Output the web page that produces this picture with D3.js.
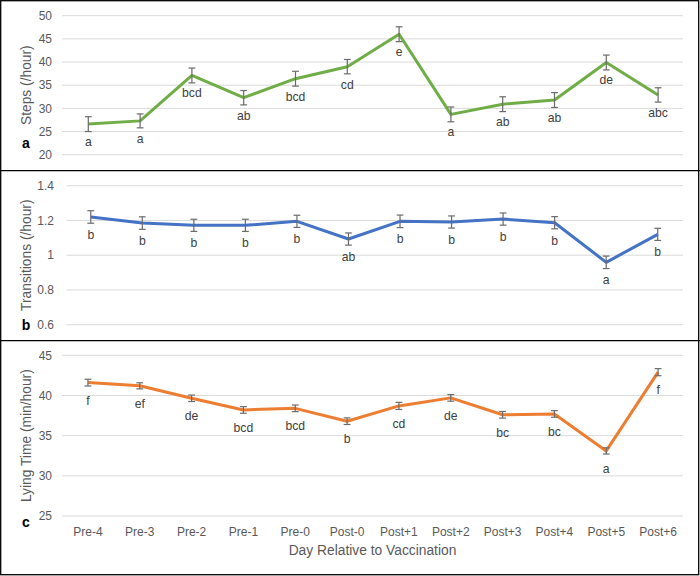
<!DOCTYPE html>
<html>
<head>
<meta charset="utf-8">
<script src="https://cdn.jsdelivr.net/npm/d3@7/dist/d3.min.js"></script>
<style>
  html, body { margin: 0; padding: 0; background: #fff; }
  svg { display: block; font-family: "Liberation Sans", Arial, sans-serif; }
</style>
</head>
<body>
<svg id="chart" width="700" height="576"></svg>
<script>
// ---- Data ----
const days = ["Pre-4","Pre-3","Pre-2","Pre-1","Pre-0","Post-0","Post+1","Post+2","Post+3","Post+4","Post+5","Post+6"];

const stepsValues = [26.6, 27.3, 37.1, 32.3, 36.4, 39.0, 46.0, 28.7, 30.9, 31.8, 39.9, 32.9];
const stepsErrors = [1.6, 1.5, 1.6, 1.55, 1.6, 1.55, 1.6, 1.6, 1.6, 1.6, 1.6, 1.55];
const stepsLetters = ["a","a","bcd","ab","bcd","cd","e","a","ab","ab","de","abc"];
const stepsTicks = [20, 25, 30, 35, 40, 45, 50];

const transValues = [1.22, 1.185, 1.172, 1.172, 1.195, 1.093, 1.195, 1.191, 1.208, 1.187, 0.959, 1.12];
const transErrors = [0.036, 0.036, 0.035, 0.035, 0.035, 0.035, 0.036, 0.035, 0.035, 0.035, 0.036, 0.035];
const transLetters = ["b","b","b","b","b","ab","b","b","b","b","a","b"];
const transTicks = [0.6, 0.8, 1.0, 1.2, 1.4];

const lyingValues = [41.6, 41.2, 39.65, 38.2, 38.4, 36.8, 38.7, 39.7, 37.6, 37.7, 33.1, 42.9];
const lyingErrors = [0.42, 0.38, 0.4, 0.41, 0.41, 0.41, 0.44, 0.41, 0.41, 0.41, 0.39, 0.44];
const lyingLetters = ["f","ef","de","bcd","bcd","b","cd","de","bc","bc","a","f"];
const lyingTicks = [25, 30, 35, 40, 45];

const xTitle = "Day Relative to Vaccination";

// ---- Layout ----
const panels = [
  { title: "Steps (/hour)", label: "a", values: stepsValues, errors: stepsErrors, letters: stepsLetters,
    ticks: stepsTicks, domain: [20, 50], yRange: [154.7, 15.7], xRange: [62.4, 684], gridX: [62, 683],
    tickX: 52, color: "#70AD47", labelY: 147.5, fmt: d3.format("d") },
  { title: "Transitions (/hour)", label: "b", values: transValues, errors: transErrors, letters: transLetters,
    ticks: transTicks, domain: [0.6, 1.4], yRange: [324.7, 185.7], xRange: [65, 683.5], gridX: [66.5, 683],
    tickX: 54, color: "#4472C4", labelY: 330, fmt: d => (d === 1 ? "1" : d3.format(".1f")(d)) },
  { title: "Lying Time (min/hour)", label: "c", values: lyingValues, errors: lyingErrors, letters: lyingLetters,
    ticks: lyingTicks, domain: [25, 45], yRange: [516, 355.3], xRange: [62, 684], gridX: [62, 683],
    tickX: 52, color: "#ED7D31", labelY: 527, fmt: d3.format("d") }
];

const svg = d3.select("#chart");
const textGray = "#595959";

panels.forEach((p, pi) => {
  const x = d3.scaleBand().domain(days).range(p.xRange).padding(0);
  const y = d3.scaleLinear().domain(p.domain).range(p.yRange);
  const cx = d => x(d) + x.bandwidth() / 2;
  const g = svg.append("g");

  // gridlines
  g.selectAll(".grid").data(p.ticks).join("line")
    .attr("x1", p.gridX[0]).attr("x2", p.gridX[1])
    .attr("y1", d => y(d)).attr("y2", d => y(d))
    .attr("stroke", "#d9d9d9").attr("stroke-width", 1);

  // tick labels
  g.selectAll(".tick").data(p.ticks).join("text")
    .attr("x", p.tickX).attr("y", d => y(d)).attr("dy", "0.35em")
    .attr("text-anchor", "end").attr("font-size", 12).attr("fill", textGray)
    .text(p.fmt);

  // y title
  const yMid = (p.yRange[0] + p.yRange[1]) / 2;
  g.append("text")
    .attr("transform", `translate(30.8,${yMid}) rotate(-90)`)
    .attr("text-anchor", "middle").attr("font-size", 13.8).attr("fill", textGray)
    .text(p.title);

  // panel label
  g.append("text")
    .attr("x", 26).attr("y", p.labelY)
    .attr("text-anchor", "middle").attr("font-size", 14).attr("font-weight", "bold").attr("fill", "#000")
    .text(p.label);

  const pts = days.map((d, i) => ({ d, v: p.values[i], e: p.errors[i], l: p.letters[i] }));

  // line
  g.append("path").datum(pts)
    .attr("fill", "none").attr("stroke", p.color).attr("stroke-width", 3)
    .attr("stroke-linejoin", "round")
    .attr("d", d3.line().x(q => cx(q.d)).y(q => y(q.v)));

  // error bars
  const eb = g.selectAll(".eb").data(pts).join("g");
  const ebColor = "#6b6b6b";
  eb.append("line")
    .attr("x1", q => cx(q.d)).attr("x2", q => cx(q.d))
    .attr("y1", q => y(q.v - q.e)).attr("y2", q => y(q.v + q.e))
    .attr("stroke", ebColor).attr("stroke-width", 1.2);
  eb.append("line")
    .attr("x1", q => cx(q.d) - 3.4).attr("x2", q => cx(q.d) + 3.4)
    .attr("y1", q => y(q.v + q.e)).attr("y2", q => y(q.v + q.e))
    .attr("stroke", ebColor).attr("stroke-width", 1.2);
  eb.append("line")
    .attr("x1", q => cx(q.d) - 3.4).attr("x2", q => cx(q.d) + 3.4)
    .attr("y1", q => y(q.v - q.e)).attr("y2", q => y(q.v - q.e))
    .attr("stroke", ebColor).attr("stroke-width", 1.2);

  // significance letters
  g.selectAll(".lt").data(pts).join("text")
    .attr("x", q => cx(q.d)).attr("y", q => y(q.v) + 22)
    .attr("text-anchor", "middle").attr("font-size", 12.2).attr("fill", "#404040")
    .text(q => q.l);

  // x axis labels for bottom panel
  if (pi === 2) {
    g.selectAll(".xl").data(days).join("text")
      .attr("x", d => cx(d)).attr("y", 536)
      .attr("text-anchor", "middle").attr("font-size", 12).attr("fill", textGray)
      .text(d => d);
    g.append("text")
      .attr("x", (p.gridX[0] + p.gridX[1]) / 2).attr("y", 554.5)
      .attr("text-anchor", "middle").attr("font-size", 13.8).attr("fill", textGray)
      .text(xTitle);
  }
});

// panel borders
const border = svg.append("g").attr("fill", "none").attr("stroke", "#000").attr("stroke-width", 1.3);
border.append("rect").attr("x", 0.7).attr("y", 0.7).attr("width", 698).attr("height", 574);
border.append("line").attr("x1", 0).attr("x2", 700).attr("y1", 170.7).attr("y2", 170.7);
border.append("line").attr("x1", 0).attr("x2", 700).attr("y1", 340.7).attr("y2", 340.7);
</script>
</body>
</html>
